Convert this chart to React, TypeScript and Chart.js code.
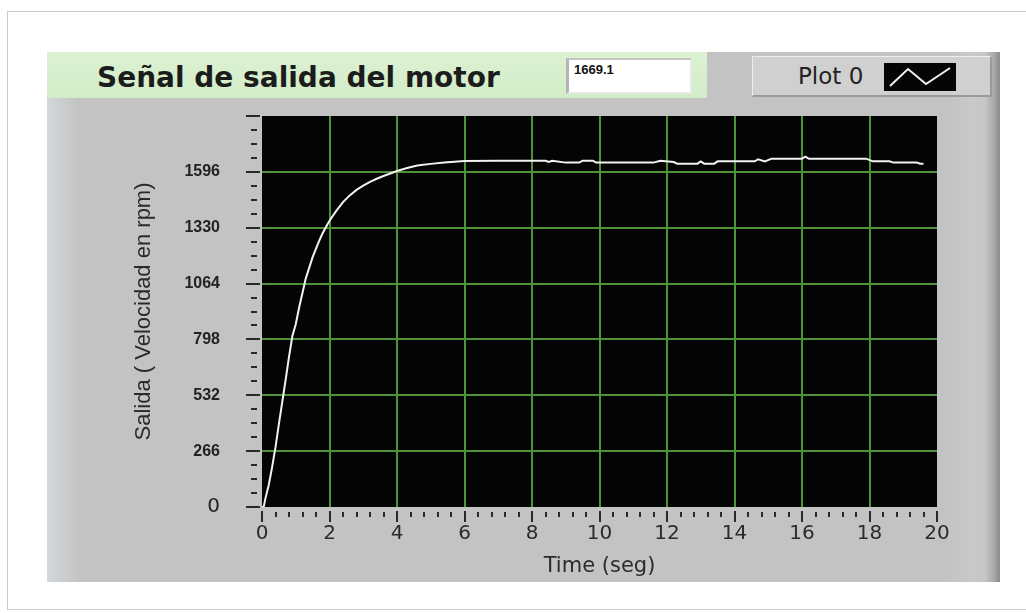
import React, { useEffect, useRef } from 'react';
import { Chart, registerables } from 'chart.js';

Chart.register(...registerables);

// ---- data ----
const timeSeg = [
  0, 0.05, 0.1, 0.2, 0.3, 0.4, 0.5, 0.6, 0.7, 0.8, 0.9,
  1.0, 1.1, 1.2, 1.3, 1.4, 1.5, 1.6, 1.7, 1.8, 1.9,
  2.0, 2.2, 2.4, 2.6, 2.8, 3.0, 3.2, 3.4, 3.6, 3.8,
  4.0, 4.3, 4.6, 5.0, 5.4, 6.0, 7.0, 8.0, 8.4, 8.5,
  8.6, 9.0, 9.4, 9.5, 9.8, 9.9, 10.5, 11.0, 11.6, 11.8,
  12.2, 12.3, 12.9, 13.0, 13.1, 13.4, 13.5, 14.0, 14.6, 14.7,
  14.9, 15.1, 15.5, 16.0, 16.1, 16.2, 17.0, 17.9, 18.1, 18.6,
  18.7, 19.4, 19.5, 19.6,
];
const salidaRpm = [
  0, 0, 40, 105, 190, 285, 395, 500, 605, 715, 815,
  870, 950, 1020, 1090, 1140, 1190, 1230, 1270, 1305, 1335,
  1363, 1410, 1452, 1484, 1510, 1530, 1548, 1563, 1576, 1588,
  1600, 1614, 1626, 1634, 1640, 1648, 1649, 1649, 1649, 1643,
  1649, 1640, 1640, 1649, 1649, 1640, 1640, 1640, 1640, 1649,
  1643, 1635, 1635, 1646, 1635, 1635, 1646, 1646, 1646, 1656,
  1646, 1659, 1659, 1659, 1668, 1659, 1659, 1659, 1646, 1646,
  1640, 1640, 1635, 1635,
];
const yTickLabels = [0, 266, 532, 798, 1064, 1330, 1596];
const xTickLabels = [0, 2, 4, 6, 8, 10, 12, 14, 16, 18, 20];
const yMinorStep = 66.5;
const yMax = 1862;
const xMinorStep = 0.4;
const xMax = 20;

const chartTitle = 'Señal de salida del motor';
const currentValue = '1669.1';
const legendLabel = 'Plot 0';
const yTitle = 'Salida ( Velocidad en rpm)';
const xTitle = 'Time (seg)';

const GRID_GREEN = 'rgb(78,146,58)';

const isYLabel = (v: number) => yTickLabels.some((m) => Math.abs(m - v) < 0.5);
const isXLabel = (v: number) => xTickLabels.some((m) => Math.abs(m - v) < 0.01);
const isYMajorMark = (v: number) => Math.round(v / yMinorStep) % 4 === 0;

const labviewPlugin = {
  id: 'labviewFrame',
  beforeDraw(chart: any) {
    const { ctx, chartArea: a } = chart;
    ctx.save();
    ctx.fillStyle = '#040404';
    ctx.fillRect(a.left, a.top, a.right - a.left, a.bottom - a.top);
    ctx.restore();
  },
  afterDraw(chart: any) {
    const { ctx, chartArea: a, scales } = chart;
    ctx.save();
    ctx.strokeStyle = '#2a2a2a';
    ctx.lineWidth = 2;
    scales.y.ticks.forEach((t: any) => {
      const py = Math.round(scales.y.getPixelForValue(t.value));
      ctx.beginPath();
      if (isYMajorMark(t.value)) {
        ctx.moveTo(a.left - 16, py);
        ctx.lineTo(a.left - 2, py);
      } else {
        ctx.moveTo(a.left - 11, py);
        ctx.lineTo(a.left - 5, py);
      }
      ctx.stroke();
    });
    scales.x.ticks.forEach((t: any) => {
      const px = Math.round(scales.x.getPixelForValue(t.value));
      ctx.beginPath();
      if (isXLabel(t.value)) {
        ctx.moveTo(px, a.bottom + 4);
        ctx.lineTo(px, a.bottom + 15);
      } else {
        ctx.moveTo(px, a.bottom + 5);
        ctx.lineTo(px, a.bottom + 10);
      }
      ctx.stroke();
    });
    ctx.restore();
  },
};

function LabviewChart() {
  const ref = useRef<HTMLCanvasElement | null>(null);
  useEffect(() => {
    if (!ref.current) return;
    const chart = new Chart(ref.current, {
      type: 'line',
      data: {
        datasets: [
          {
            label: legendLabel,
            data: timeSeg.map((t, i) => ({ x: t, y: salidaRpm[i] })),
            borderColor: '#f2f2f2',
            borderWidth: 2,
            pointRadius: 0,
            tension: 0,
            fill: false,
          },
        ],
      },
      options: {
        animation: false,
        responsive: false,
        devicePixelRatio: 1,
        layout: { padding: { top: 18, right: 63, left: 0, bottom: 0 } },
        plugins: {
          legend: { display: false },
          tooltip: { enabled: false },
          title: { display: false },
        },
        scales: {
          x: {
            type: 'linear',
            min: 0,
            max: xMax,
            ticks: {
              stepSize: xMinorStep,
              autoSkip: false,
              maxRotation: 0,
              padding: 3,
              color: '#2b2b2b',
              font: { family: "'DejaVu Sans', sans-serif", size: 20 },
              callback: (v: any) => (isXLabel(Number(v)) ? String(Math.round(Number(v))) : ''),
            },
            grid: {
              color: (c: any) =>
                c.tick && isXLabel(c.tick.value) && c.tick.value > 0.01 && c.tick.value < xMax - 0.01
                  ? GRID_GREEN
                  : 'rgba(0,0,0,0)',
              lineWidth: 2,
              drawTicks: true,
              tickLength: 12,
              tickColor: 'rgba(0,0,0,0)',
            },
            border: { display: false },
            title: {
              display: true,
              text: xTitle,
              color: '#2b2b2b',
              font: { family: "'DejaVu Sans', sans-serif", size: 21 },
              padding: { top: 0, bottom: 3 },
            },
            afterFit: (s: any) => {
              s.height = 75;
            },
          },
          y: {
            type: 'linear',
            min: 0,
            max: yMax,
            ticks: {
              stepSize: yMinorStep,
              autoSkip: false,
              padding: 0,
              color: '#222222',
              font: (c: any) =>
                c.tick && c.tick.value === 0
                  ? { family: "'DejaVu Sans', sans-serif", size: 20, weight: 'normal' }
                  : { family: "'Liberation Sans', Arial, sans-serif", size: 16, weight: 'bold' },
              callback: (v: any) => (isYLabel(Number(v)) ? String(Math.round(Number(v))) : ''),
            },
            grid: {
              color: (c: any) =>
                c.tick && isYLabel(c.tick.value) && c.tick.value > 0.5 ? GRID_GREEN : 'rgba(0,0,0,0)',
              lineWidth: 2,
              drawTicks: true,
              tickLength: 42,
              tickColor: 'rgba(0,0,0,0)',
            },
            border: { display: false },
            title: {
              display: true,
              text: yTitle,
              color: '#2b2b2b',
              font: { family: "'Liberation Sans', Arial, sans-serif", size: 22 },
              padding: { top: 84, bottom: 0 },
            },
            afterFit: (s: any) => {
              s.width = 215;
            },
          },
        },
      } as any,
      plugins: [labviewPlugin],
    });
    return () => chart.destroy();
  }, []);
  return (
    <canvas
      ref={ref}
      width={953}
      height={484}
      style={{ position: 'absolute', left: 47, top: 98, width: 953, height: 484 }}
    />
  );
}

export default function App() {
  return (
    <div
      style={{
        position: 'fixed',
        left: 0,
        top: 0,
        width: 1026,
        height: 613,
        background: '#ffffff',
        overflow: 'hidden',
        fontFamily: "'DejaVu Sans', sans-serif",
      }}
    >
      {/* outer frame */}
      <div
        style={{
          position: 'absolute',
          left: 7,
          top: 11,
          width: 1040,
          height: 599,
          border: '1px solid #c9c9c9',
          boxSizing: 'border-box',
        }}
      />
      {/* gray panel */}
      <div
        style={{
          position: 'absolute',
          left: 47,
          top: 52,
          width: 953,
          height: 530,
          background: '#c3c3c3',
        }}
      />
      {/* left bevel */}
      <div
        style={{
          position: 'absolute',
          left: 47,
          top: 98,
          width: 32,
          height: 484,
          background: 'linear-gradient(to right, #d3d8db, #c3c3c3)',
        }}
      />
      {/* right bevel */}
      <div
        style={{
          position: 'absolute',
          left: 940,
          top: 52,
          width: 60,
          height: 530,
          background:
            'linear-gradient(to right, #c2c2c2 0%, #c9c9c9 55%, #c6c6c6 75%, #a9a9a9 90%, #8a8a8a 100%)',
        }}
      />
      {/* header green */}
      <div
        style={{
          position: 'absolute',
          left: 47,
          top: 52,
          width: 660,
          height: 46,
          background: 'linear-gradient(to bottom, #dcf2d3, #d2ecc8)',
        }}
      />
      <div
        style={{
          position: 'absolute',
          left: 97,
          top: 62,
          fontFamily: "'DejaVu Sans', sans-serif",
          fontWeight: 'bold',
          fontSize: 28,
          lineHeight: '32px',
          color: '#1c1c1c',
          whiteSpace: 'nowrap',
        }}
      >
        {chartTitle}
      </div>
      {/* value box */}
      <div
        style={{
          position: 'absolute',
          left: 566,
          top: 58,
          width: 126,
          height: 36,
          background: '#ffffff',
          borderLeft: '3px solid #b4b4b4',
          borderTop: '2px solid #c4c4c4',
          borderRight: '2px solid #e8e8e8',
          borderBottom: '2px solid #e8e8e8',
          boxSizing: 'border-box',
          fontFamily: "'Liberation Sans', Arial, sans-serif",
          fontWeight: 'bold',
          fontSize: 13,
          lineHeight: '15px',
          color: '#111',
          paddingLeft: 5,
          paddingTop: 2,
        }}
      >
        {currentValue}
      </div>
      {/* legend */}
      <div
        style={{
          position: 'absolute',
          left: 752,
          top: 56,
          width: 240,
          height: 41,
          background: '#d0d0d0',
          borderTop: '1px solid #ececec',
          borderLeft: '1px solid #ececec',
          borderRight: '2px solid #9a9a9a',
          borderBottom: '2px solid #9a9a9a',
          boxSizing: 'border-box',
        }}
      />
      <div
        style={{
          position: 'absolute',
          left: 798,
          top: 62,
          fontFamily: "'DejaVu Sans', sans-serif",
          fontSize: 23,
          lineHeight: '28px',
          color: '#222',
          whiteSpace: 'nowrap',
        }}
      >
        {legendLabel}
      </div>
      <svg
        width={72}
        height={28}
        style={{ position: 'absolute', left: 884, top: 63, background: '#050505' }}
      >
        <polyline
          points="6,23 24,6 42,21 66,5"
          fill="none"
          stroke="#f0f0f0"
          strokeWidth={2}
        />
      </svg>
      <LabviewChart />
    </div>
  );
}
